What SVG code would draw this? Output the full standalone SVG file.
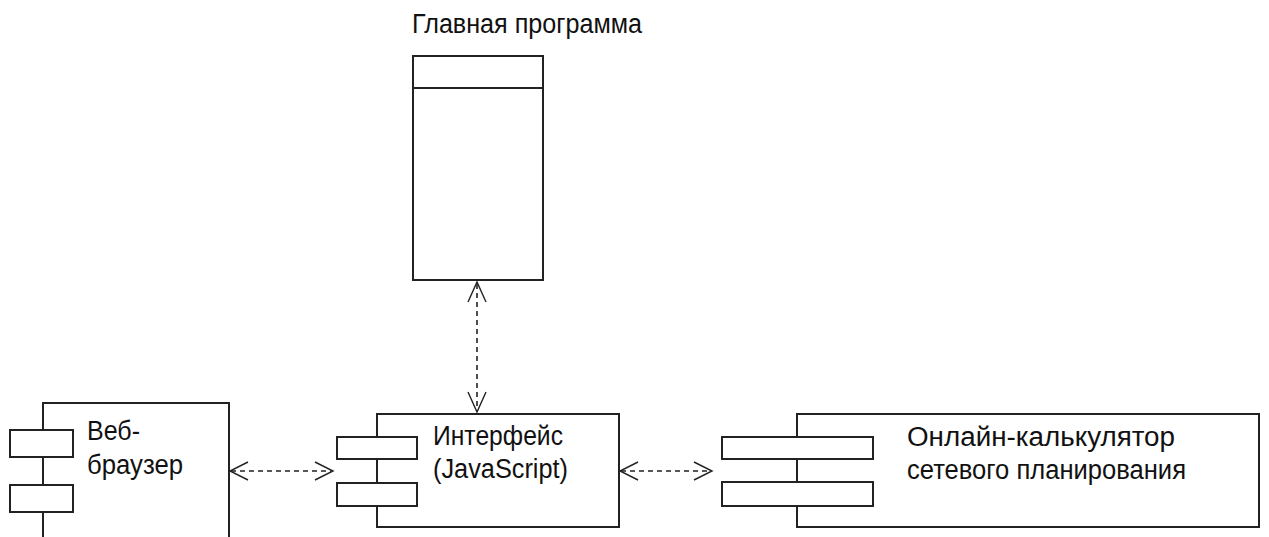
<svg xmlns="http://www.w3.org/2000/svg" width="1269" height="537" viewBox="0 0 1269 537">
<style>
.box{fill:#fff;stroke:#222;stroke-width:2}
.edge{fill:none;stroke:#222;stroke-width:2}
.lbl{font-family:"Liberation Sans",Arial,sans-serif;font-size:27px;fill:#111}
.dash{fill:none;stroke:#222;stroke-width:1.6;stroke-dasharray:5 4}
.head{fill:none;stroke:#222;stroke-width:1.4}
</style>
<rect width="1269" height="537" fill="#fff"/>
<g id="main-program">
<text class="lbl" x="412" y="33" textLength="230" lengthAdjust="spacingAndGlyphs">Главная программа</text>
<rect class="box" x="413" y="56" width="130" height="224"/>
<line class="edge" x1="413" y1="88" x2="543" y2="88"/>
</g>
<g id="web-browser">
<path class="edge" d="M43,545 V403 H229 V545"/>
<rect class="box" x="10" y="430" width="63" height="27"/>
<rect class="box" x="10" y="485" width="63" height="27"/>
<text class="lbl" x="87" y="440" textLength="53" lengthAdjust="spacingAndGlyphs">Веб-</text>
<text class="lbl" x="87" y="474" textLength="96" lengthAdjust="spacingAndGlyphs">браузер</text>
</g>
<g id="interface">
<rect class="box" x="377" y="414" width="242" height="113"/>
<rect class="box" x="337" y="437" width="80" height="22"/>
<rect class="box" x="337" y="483" width="80" height="23"/>
<text class="lbl" x="433" y="445" textLength="130" lengthAdjust="spacingAndGlyphs">Интерфейс</text>
<text class="lbl" x="433" y="478" textLength="135" lengthAdjust="spacingAndGlyphs">(JavaScript)</text>
</g>
<g id="calculator">
<rect class="box" x="797" y="414" width="462" height="113"/>
<rect class="box" x="722" y="437" width="151" height="22"/>
<rect class="box" x="722" y="482" width="151" height="24"/>
<text class="lbl" x="907" y="446" textLength="268" lengthAdjust="spacingAndGlyphs">Онлайн-калькулятор</text>
<text class="lbl" x="907" y="479" textLength="279" lengthAdjust="spacingAndGlyphs">сетевого планирования</text>
</g>
<g id="connectors">
<line class="dash" x1="477" y1="284" x2="477" y2="410"/>
<path class="head" d="M468,302 L477,282 L486,302 M468,392 L477,412 L486,392"/>
<line class="dash" x1="231" y1="471" x2="331" y2="471"/>
<path class="head" d="M248,462 L230,471 L248,480 M315,462 L333,471 L315,480"/>
<line class="dash" x1="621" y1="471" x2="710" y2="471"/>
<path class="head" d="M638,462 L620,471 L638,480 M694,462 L712,471 L694,480"/>
</g>
</svg>
